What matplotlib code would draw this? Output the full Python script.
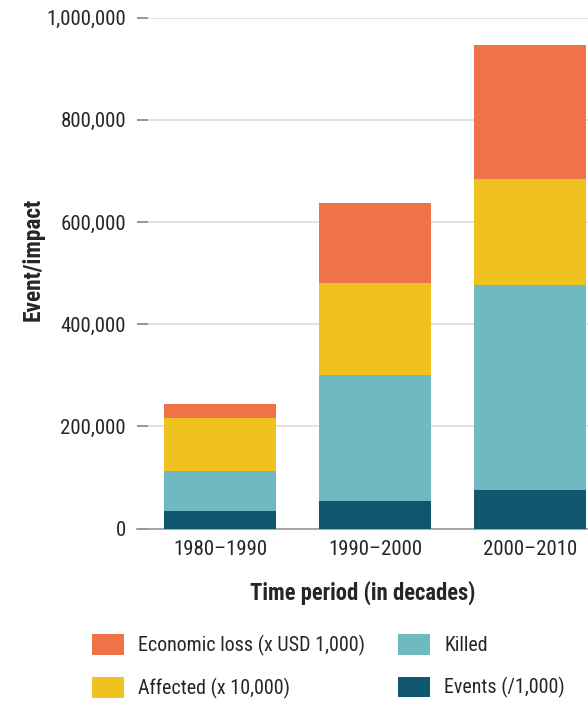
import matplotlib
matplotlib.use("Agg")
import matplotlib.pyplot as plt
import numpy as np
from matplotlib.ticker import FuncFormatter

plt.rcParams['font.family'] = ['Roboto Condensed', 'DejaVu Sans']

periods = ['1980\u20131990', '1990\u20132000', '2000\u20132010']
events = [35000, 54000, 76000]
killed = [77000, 246000, 400000]
affected = [104000, 181000, 208000]
econ_loss = [28000, 156000, 262000]

series = [
    ('Events (/1,000)', events, '#10566f'),
    ('Killed', killed, '#6fbac1'),
    ('Affected (x 10,000)', affected, '#efc21f'),
    ('Economic loss (x USD 1,000)', econ_loss, '#f07249'),
]

text_col = '#262626'

fig = plt.figure(figsize=(5.88, 7.01), dpi=100)
ax = fig.add_axes([137 / 588, 1 - 528.7 / 701, 451 / 588, 511.2 / 701])

x = np.arange(len(periods))
bottom = np.zeros(len(periods))
bars = {}
for name, vals, col in series:
    bars[name] = ax.bar(x, vals, width=0.724, bottom=bottom, color=col,
                        edgecolor='none', zorder=3, label=name)
    bottom += np.array(vals)

ax.set_ylim(0, 1000000)
ax.set_xlim(-0.538, 2.377)
ax.set_yticks(np.arange(0, 1000001, 200000))
ax.yaxis.set_major_formatter(FuncFormatter(lambda v, p: f'{int(v):,}'))
ax.set_xticks(x)
ax.set_xticklabels(periods)

ax.grid(axis='y', color='#dddddd', linewidth=1.2, zorder=0)
for s in ['top', 'right', 'left']:
    ax.spines[s].set_visible(False)
ax.spines['bottom'].set_color('#999999')
ax.spines['bottom'].set_linewidth(1.2)
ax.tick_params(axis='y', direction='in', length=8, width=1.2, color='#888888',
               labelsize=15, labelcolor=text_col, pad=8)
ax.tick_params(axis='x', length=0, labelsize=15, labelcolor=text_col, pad=8)

ax.set_xlabel('Time period (in decades)', fontsize=16.3, fontweight='bold',
              color=text_col, labelpad=16)
ax.set_ylabel('Event/impact', fontsize=16.8, fontweight='bold', color=text_col)
ax.yaxis.set_label_coords(-0.204, 0.526)

order = ['Economic loss (x USD 1,000)', 'Affected (x 10,000)', 'Killed', 'Events (/1,000)']
fig.legend([bars[n] for n in order], order, ncol=2, frameon=False,
           loc='upper left', bbox_to_anchor=(91.7 / 588, 1 - 634 / 701),
           fontsize=14.4, labelcolor=text_col, handlelength=1.6,
           handleheight=1.2, handletextpad=0.73, labelspacing=1.08,
           columnspacing=1.63, borderpad=0, borderaxespad=0)

fig.savefig('out.png', dpi=100)
